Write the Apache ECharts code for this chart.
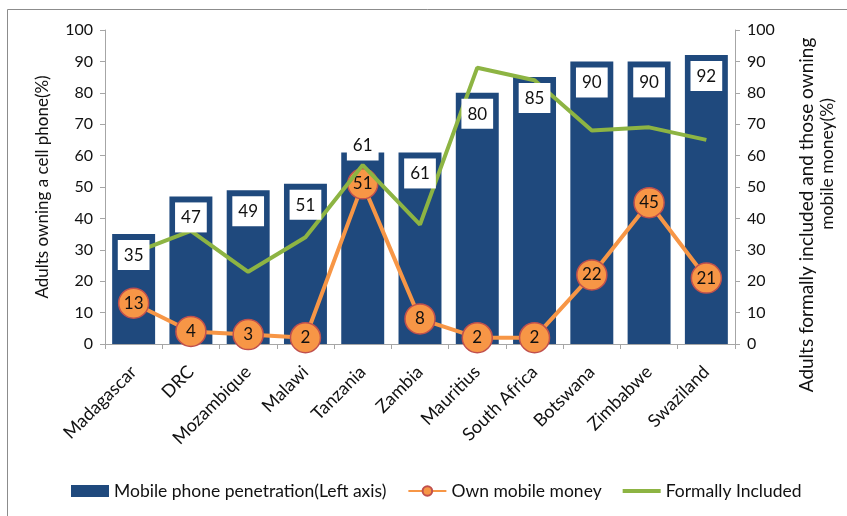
<!DOCTYPE html>
<html>
<head>
<meta charset="utf-8">
<script src="https://cdn.jsdelivr.net/npm/echarts@6/dist/echarts.min.js"></script>
<style>
  html, body { margin: 0; padding: 0; background: #fff; }
  #chart { width: 847px; height: 516px; }
</style>
</head>
<body>
<div id="chart"></div>
<script>
// values
const countries = ['Madagascar', 'DRC', 'Mozambique', 'Malawi', 'Tanzania', 'Zambia',
  'Mauritius', 'South Africa', 'Botswana', 'Zimbabwe', 'Swaziland'];
const phonePenetration = [35, 47, 49, 51, 61, 61, 80, 85, 90, 90, 92];
const ownMobileMoney = [13, 4, 3, 2, 51, 8, 2, 2, 22, 45, 21];
const formallyIncluded = [29, 36, 23, 34, 57, 38, 88, 84, 68, 69, 65];

const FONT = 'Lato';
const axisGray = '#a6a6a6';

const chart = echarts.init(document.getElementById('chart'));

// bar labels sit inside the bar top, except Tanzania which is pushed up
const labelData = phonePenetration.map((v, i) => {
  if (countries[i] === 'Tanzania') {
    return { value: v, label: { position: 'top', distance: -8 } };
  }
  return v;
});

const valueAxis = (name, pos, gap, nameStyle) => ({
  type: 'value',
  position: pos,
  min: 0,
  max: 100,
  interval: 10,
  name: name,
  nameLocation: 'middle',
  nameRotate: 90,
  nameGap: gap,
  nameTextStyle: Object.assign({ fontFamily: FONT, fontSize: 17, color: '#111', lineHeight: 21 }, nameStyle),
  axisLine: { show: true, lineStyle: { color: axisGray, width: 1 } },
  axisTick: { show: true, length: 5, lineStyle: { color: axisGray } },
  axisLabel: { fontFamily: FONT, fontSize: 16, color: '#111', margin: 12 },
  splitLine: { show: false }
});

// the two lines of the right title are not centred on each other in the original
const rightNameRich = {
  rich: {
    a: { fontFamily: FONT, fontSize: 19, color: '#111', lineHeight: 21, padding: [0, 56, 0, 0] },
    b: { fontFamily: FONT, fontSize: 17.5, color: '#111', lineHeight: 21, padding: [0, 0, 0, 46] }
  }
};

chart.setOption({
  animation: false,
  textStyle: { fontFamily: FONT },
  graphic: [{
    type: 'rect',
    left: 5,
    top: 7,
    shape: { width: 860, height: 530 },
    style: { fill: 'none', stroke: '#8c8c8c', lineWidth: 1 },
    silent: true
  }],
  grid: { left: 105, right: 112, top: 30, bottom: 172, containLabel: false, outerBoundsMode: 'none' },
  legend: {
    left: 71,
    top: 482,
    padding: 0,
    itemGap: 21,
    itemWidth: 38,
    itemHeight: 12,
    textStyle: { fontFamily: FONT, fontSize: 17.5, color: '#111' },
    data: [
      { name: 'Mobile phone penetration(Left axis)', icon: 'rect' },
      { name: 'Own mobile money' },
      { name: 'Formally Included', icon: 'path://M0,0 L38,0 L38,4 L0,4 Z' }
    ]
  },
  xAxis: {
    type: 'category',
    data: countries,
    axisLine: { lineStyle: { color: axisGray } },
    axisTick: { show: true, length: 5, alignWithLabel: false, lineStyle: { color: axisGray } },
    axisLabel: { interval: 0, rotate: 45, fontFamily: FONT, fontSize: 18, color: '#111', margin: 25 }
  },
  yAxis: [
    valueAxis('Adults owning a cell phone(%)', 'left', 52),
    valueAxis('{a|Adults formally included and those owning}\n{b|mobile money(%)}', 'right', 61, rightNameRich)
  ],
  series: [
    {
      name: 'Mobile phone penetration(Left axis)',
      type: 'bar',
      data: phonePenetration,
      barWidth: '75%',
      itemStyle: { color: '#1f497d' },
      z: 2
    },
    {
      name: 'Own mobile money',
      type: 'line',
      yAxisIndex: 1,
      data: ownMobileMoney,
      symbol: 'circle',
      symbolSize: 30,
      lineStyle: { color: '#f79646', width: 4 },
      itemStyle: { color: '#f79646', borderColor: '#c0504d', borderWidth: 1.5 },
      label: { show: true, position: 'inside', color: '#111', fontFamily: FONT, fontSize: 17 },
      z: 3
    },
    {
      name: 'Formally Included',
      type: 'line',
      yAxisIndex: 1,
      data: formallyIncluded,
      symbol: 'none',
      lineStyle: { color: '#8db443', width: 4 },
      itemStyle: { color: '#8db443' },
      z: 4
    },
    {
      // transparent copy of the bars, only to draw the value boxes above the lines
      name: 'barLabels',
      type: 'bar',
      data: labelData,
      barWidth: '75%',
      barGap: '-100%',
      itemStyle: { color: 'rgba(0,0,0,0)' },
      silent: true,
      label: {
        show: true,
        position: 'insideTop',
        distance: 6,
        backgroundColor: '#fff',
        padding: [7, 6, 6, 6],
        color: '#111',
        fontFamily: FONT,
        fontSize: 17
      },
      z: 5
    }
  ]
});
</script>
</body>
</html>
